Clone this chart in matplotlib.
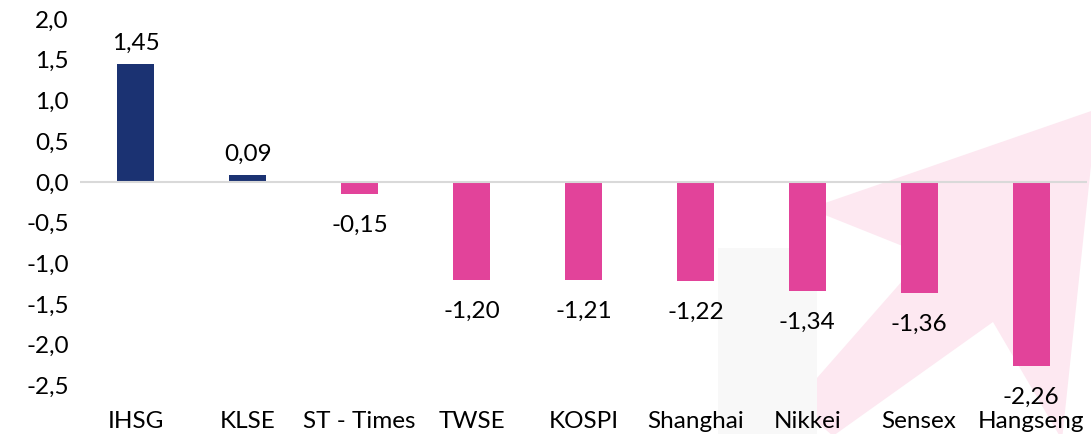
import matplotlib
matplotlib.use("Agg")
import matplotlib.pyplot as plt
from matplotlib.patches import Polygon, Rectangle
from matplotlib.ticker import FuncFormatter, MultipleLocator

categories = ["IHSG", "KLSE", "ST - Times", "TWSE", "KOSPI", "Shanghai", "Nikkei", "Sensex", "Hangseng"]
values = [1.45, 0.09, -0.15, -1.20, -1.21, -1.22, -1.34, -1.36, -2.26]
value_labels = ["1,45", "0,09", "-0,15", "-1,20", "-1,21", "-1,22", "-1,34", "-1,36", "-2,26"]

POS_COLOR = "#1B3272"
NEG_COLOR = "#E2439A"

plt.rcParams['font.family'] = ['Lato', 'DejaVu Sans']
FS = 17.5

W, H = 1091, 434
fig = plt.figure(figsize=(W / 100, H / 100), dpi=100)

def fp(x, y):
    return (x / W, 1 - y / H)

# background watermark decorations
arrow_px = [(795, 403), (925, 255), (825, 215), (825, 203), (1097, 109),
            (1062, 440), (993, 322), (833, 436)]
fig.patches.append(Polygon([fp(x, y) for x, y in arrow_px], closed=True,
                           transform=fig.transFigure, facecolor="#FDE8F1",
                           edgecolor="none", zorder=-2))
fig.patches.append(Rectangle(fp(718, 434), (817 - 718) / W, (434 - 248) / H,
                             transform=fig.transFigure, facecolor="#F8F8F8",
                             edgecolor="none", zorder=-2))

ax = fig.add_axes([80 / W, 1 - 385.5 / H, (1087 - 80) / W, (385.5 - 19) / H])
ax.set_zorder(1)
ax.patch.set_alpha(0)

x = list(range(len(categories)))
colors = [POS_COLOR if v >= 0 else NEG_COLOR for v in values]
ax.bar(x, values, width=0.33, color=colors, zorder=2)
ax.axhline(0, color="#D9D9D9", linewidth=1.5, zorder=3)

for xi, v, lab in zip(x, values, value_labels):
    if v >= 0:
        ax.annotate(lab, (xi, v), xytext=(0, 7), textcoords="offset points",
                    ha="center", va="bottom", fontsize=FS, color="#000000")
    else:
        ax.annotate(lab, (xi, v), xytext=(0, -15), textcoords="offset points",
                    ha="center", va="top", fontsize=FS, color="#000000")

ax.set_xlim(-0.5, len(categories) - 0.5)
ax.set_ylim(-2.5, 2.0)
ax.yaxis.set_major_locator(MultipleLocator(0.5))
ax.yaxis.set_major_formatter(FuncFormatter(lambda v, p: f"{v:.1f}".replace(".", ",").replace("-0,0", "0,0")))
ax.set_xticks(x)
ax.set_xticklabels(categories)
ax.tick_params(axis="both", length=0, labelsize=FS, colors="#000000")
ax.tick_params(axis="x", pad=18)
ax.tick_params(axis="y", pad=8)
for s in ax.spines.values():
    s.set_visible(False)

fig.savefig("out.png", dpi=100)
